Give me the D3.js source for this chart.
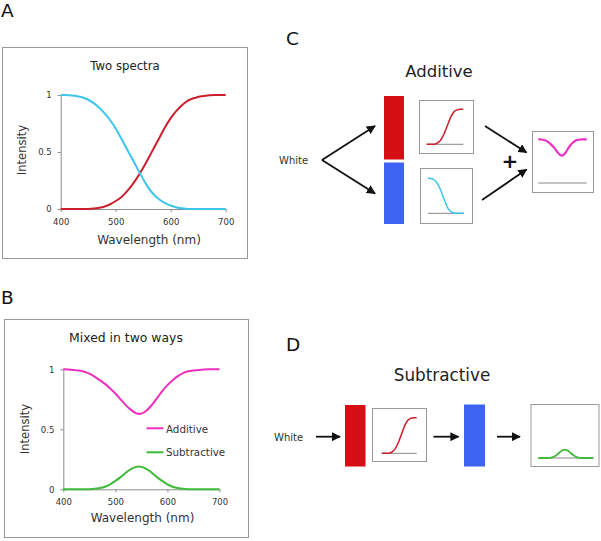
<!DOCTYPE html>
<html><head><meta charset="utf-8">
<script src="https://cdn.jsdelivr.net/npm/d3@7"></script>
<style>body{margin:0;background:#fff}svg{display:block}text{font-family:"DejaVu Sans",Verdana,sans-serif}</style>
</head><body><svg id="c" width="601" height="541"></svg>
<script>
// ---- data ----
const wavelengths = [400,410,420,430,440,450,460,470,480,490,500,510,520,530,540,550,560,570,580,590,600,610,620,630,640,650,660,670,680,690,700];
const blueSpectrum = [1,1,0.995,0.99,0.98,0.96,0.93,0.89,0.84,0.78,0.71,0.62,0.53,0.44,0.35,0.26,0.18,0.12,0.08,0.05,0.03,0.015,0.005,0,0,0,0,0,0,0,0];
const redSpectrum  = [0,0,0,0,0,0,0.003,0.01,0.02,0.04,0.07,0.10,0.15,0.21,0.28,0.36,0.45,0.54,0.63,0.72,0.80,0.86,0.91,0.95,0.97,0.985,0.99,1,1,1,1];
const additive     = [1,1,0.995,0.99,0.98,0.965,0.94,0.91,0.88,0.84,0.80,0.75,0.70,0.66,0.63,0.625,0.655,0.70,0.76,0.82,0.87,0.91,0.945,0.97,0.985,0.99,0.995,1,1,1,1];
const subtractive  = [0,0,0,0,0,0,0.003,0.01,0.02,0.04,0.07,0.10,0.14,0.17,0.19,0.19,0.17,0.14,0.10,0.07,0.04,0.02,0.01,0.003,0,0,0,0,0,0,0];
const xTicks = [400,500,600,700];
const yTicks = [0,0.5,1];
const yTickLabels = ["0","0.5","1"];
const legendLabels = ["Additive","Subtractive"];

const COL = {red:"#cc1f2d", blue:"#3cc6ee", mag:"#ec2fc0", green:"#3fba3a", redBar:"#d60f14", blueBar:"#3d63f2", frame:"#999", axis:"#8c8c8c", text:"#333"};

const svg = d3.select("#c");
svg.append("rect").attr("width",601).attr("height",541).attr("fill","#fff");

const defs = svg.append("defs");
defs.append("marker").attr("id","ah").attr("viewBox","0 0 10 10").attr("refX",9).attr("refY",5)
  .attr("markerWidth",5).attr("markerHeight",5).attr("markerUnits","strokeWidth").attr("orient","auto")
  .append("path").attr("d","M0,0 L10,5 L0,10 Z").attr("fill","#111");

function series(vals){ return wavelengths.map((w,i)=>({w, v: vals[i]})); }

function drawCurve(g, vals, x, y, color, width){
  const line = d3.line().x(d=>x(d.w)).y(d=>y(d.v)).curve(d3.curveBasis);
  g.append("path").datum(series(vals)).attr("d", line).attr("fill","none")
    .attr("stroke", color).attr("stroke-width", width).attr("stroke-linejoin","round");
}

function panelLabel(t, x, y){
  svg.append("text").attr("x",x).attr("y",y).attr("font-size",18.5).attr("fill","#111").text(t);
}

function bigChart(opt){
  const g = svg.append("g");
  g.append("rect").attr("x",opt.box[0]+0.5).attr("y",opt.box[1]+0.5).attr("width",opt.box[2]).attr("height",opt.box[3])
    .attr("fill","#fff").attr("stroke",COL.frame);
  const x = d3.scaleLinear().domain([400,700]).range(opt.xr);
  const y = d3.scaleLinear().domain([0,1]).range(opt.yr);
  const ax = g.append("g").attr("transform",`translate(0,${opt.yr[0]})`)
    .call(d3.axisBottom(x).tickValues(xTicks).tickSize(3).tickSizeOuter(0).tickPadding(7));
  const ay = g.append("g").attr("transform",`translate(${opt.xr[0]},0)`)
    .call(d3.axisLeft(y).tickValues(yTicks).tickFormat((d,i)=>yTickLabels[i]).tickSize(3).tickSizeOuter(0).tickPadding(6));
  [ax,ay].forEach(a=>{
    a.selectAll("path,line").attr("stroke",COL.axis);
    a.selectAll("text").attr("font-size",8.5).attr("fill",COL.text).style("font-family",'"DejaVu Sans"');
  });
  g.append("text").attr("x",opt.title[0]).attr("y",opt.title[1]).attr("text-anchor","middle")
    .attr("font-size",opt.titleSize).attr("fill","#222").text(opt.titleText);
  g.append("text").attr("x",opt.xlab[0]).attr("y",opt.xlab[1]).attr("text-anchor","middle")
    .attr("font-size",12).attr("fill",COL.text).text("Wavelength (nm)");
  g.append("text").attr("transform",`translate(${opt.ylab[0]},${opt.ylab[1]}) rotate(-90)`).attr("text-anchor","middle")
    .attr("font-size",11.6).attr("fill",COL.text).text("Intensity");
  opt.curves.forEach(c=>drawCurve(g, c.vals, x, y, c.color, 2));
  return {g,x,y};
}

// ---- Panel A ----
panelLabel("A",1,17);
bigChart({box:[2,47,245,211], xr:[60.7,225.7], yr:[209,95], title:[125,69.5], titleSize:11.7, titleText:"Two spectra",
  xlab:[149,244], ylab:[25.5,150],
  curves:[{vals:redSpectrum,color:COL.red},{vals:blueSpectrum,color:COL.blue}]});

// ---- Panel B ----
panelLabel("B",1,304);
const B = bigChart({box:[4,319,244,218], xr:[63.3,219.5], yr:[489.3,369.3], title:[126,342], titleSize:12.4, titleText:"Mixed in two ways",
  xlab:[142.5,522], ylab:[29,429],
  curves:[{vals:additive,color:COL.mag},{vals:subtractive,color:COL.green}]});
[[COL.mag,428.3,432.5],[COL.green,452.3,456.3]].forEach((l,i)=>{
  B.g.append("line").attr("x1",146.5).attr("x2",163.5).attr("y1",l[1]).attr("y2",l[1]).attr("stroke",l[0]).attr("stroke-width",2);
  B.g.append("text").attr("x",166).attr("y",l[2]).attr("font-size",10.3).attr("fill",COL.text).text(legendLabels[i]);
});

// ---- mini charts ----
function mini(box, xr, yr, vals, color, w){
  const g = svg.append("g");
  g.append("rect").attr("x",box[0]+0.5).attr("y",box[1]+0.5).attr("width",box[2]).attr("height",box[3])
    .attr("fill","#fff").attr("stroke",COL.frame);
  const x = d3.scaleLinear().domain([400,700]).range(xr);
  const y = d3.scaleLinear().domain([0,1]).range(yr);
  g.append("line").attr("x1",xr[0]).attr("x2",xr[1]).attr("y1",y(0)).attr("y2",y(0)).attr("stroke","#888").attr("stroke-width",1);
  drawCurve(g, vals, x, y, color, w);
}
function arrow(x1,y1,x2,y2){
  svg.append("line").attr("x1",x1).attr("y1",y1).attr("x2",x2).attr("y2",y2)
    .attr("stroke","#111").attr("stroke-width",1.8).attr("marker-end","url(#ah)");
}

// ---- Panel C ----
panelLabel("C",286,45);
svg.append("text").attr("x",439).attr("y",77).attr("text-anchor","middle").attr("font-size",16.5).attr("fill","#222").text("Additive");
svg.append("text").attr("x",279).attr("y",164).attr("font-size",10).attr("fill",COL.text).text("White");
arrow(322,160,375,126);
arrow(322,160,375,193.5);
svg.append("rect").attr("x",384).attr("y",96).attr("width",20).attr("height",63.5).attr("fill",COL.redBar);
svg.append("rect").attr("x",384).attr("y",162.5).attr("width",20).attr("height",61.5).attr("fill",COL.blueBar);
mini([419,100,54,53],[426.7,463.3],[144.3,109.3],redSpectrum,COL.red,1.5);
mini([420,168,52,55],[428,464],[213.3,178.3],blueSpectrum,COL.blue,1.5);
mini([532,131,61,61],[538.3,586.7],[183,139.3],additive,COL.mag,2.2);
arrow(485,126,526.5,152.5);
arrow(482,200,526.5,169.5);
svg.append("text").attr("x",510).attr("y",168).attr("text-anchor","middle").attr("font-size",20).attr("font-weight","bold").attr("fill","#111").text("+");

// ---- Panel D ----
panelLabel("D",286,351);
svg.append("text").attr("x",442).attr("y",381).attr("text-anchor","middle").attr("font-size",16.8).attr("fill","#222").text("Subtractive");
svg.append("text").attr("x",274).attr("y",441).attr("font-size",10).attr("fill",COL.text).text("White");
arrow(316,436.7,340,436.7);
svg.append("rect").attr("x",345).attr("y",405).attr("width",20.5).attr("height",61.5).attr("fill",COL.redBar);
mini([372,408,54,53],[381.7,416.7],[453.3,417.7],redSpectrum,COL.red,1.5);
arrow(433.5,436.7,458.5,436.7);
svg.append("rect").attr("x",464).attr("y",404.5).attr("width",21).attr("height",62).attr("fill",COL.blueBar);
arrow(497,436.7,520,436.7);
mini([530.5,404,68,62],[538.3,593.3],[458,414],subtractive,COL.green,1.8);
</script></body></html>
